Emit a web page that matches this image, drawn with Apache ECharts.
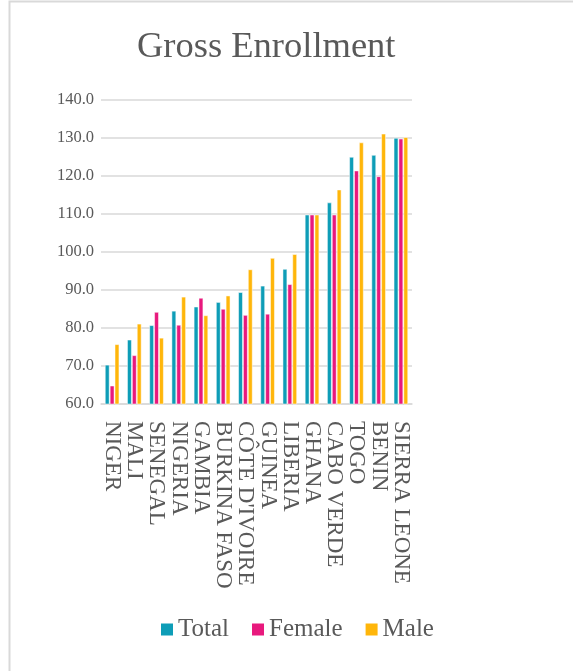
<!DOCTYPE html>
<html>
<head>
<meta charset="utf-8">
<script src="https://cdn.jsdelivr.net/npm/echarts@6/dist/echarts.min.js"></script>
<style>
html,body{margin:0;padding:0;background:#fff;}
#chart{width:573px;height:671px;}
</style>
</head>
<body>
<div id="chart"></div>
<script>
const categories = ["NIGER","MALI","SENEGAL","NIGERIA","GAMBIA","BURKINA FASO","CÔTE D'IVOIRE","GUINEA","LIBERIA","GHANA","CABO VERDE","TOGO","BENIN","SIERRA LEONE"];
const totalValues  = [70.3, 76.9, 80.7, 84.5, 85.6, 86.8, 89.4, 91.1, 95.5, 109.8, 113.0, 125.0, 125.5, 130.0];
const femaleValues = [64.8, 72.8, 84.2, 80.8, 87.9, 85.0, 83.4, 83.7, 91.5, 109.8, 109.8, 121.4, 119.9, 129.8];
const maleValues   = [75.7, 81.1, 77.4, 88.2, 83.3, 88.5, 95.4, 98.4, 99.4, 109.8, 116.4, 128.8, 131.1, 130.2];
const yTicks = { min: 60, max: 140, interval: 10 };

const font = "'Liberation Serif', 'DejaVu Serif', serif";
const textColor = '#595959';
const chart = echarts.init(document.getElementById('chart'), null, { renderer: 'canvas' });
const barStyle = { borderColor: '#fff', borderWidth: 0.5 };
chart.setOption({
  animation: false,
  backgroundColor: '#fff',
  graphic: [{
    type: 'rect', silent: true, z: -1,
    shape: { x: 9.5, y: 1.5, width: 700, height: 800 },
    style: { fill: 'none', stroke: '#d9d9d9', lineWidth: 2 }
  }],
  title: {
    text: 'Gross Enrollment', left: 137, top: 29,
    textStyle: { fontFamily: font, fontWeight: 'normal', fontSize: 36.5, color: textColor },
    padding: 0, itemGap: 0
  },
  legend: {
    top: 617, left: 159,
    itemWidth: 14, itemHeight: 14, itemGap: 21,
    icon: 'rect', padding: 0,
    textStyle: { fontFamily: font, fontSize: 25, color: textColor, padding: [0,0,0,-1] },
    data: ['Total','Female','Male']
  },
  grid: { left: 101, right: 161, top: 100, bottom: 267, containLabel: false },
  xAxis: {
    type: 'category', data: categories,
    axisLine: { show: true, lineStyle: { color: '#d9d9d9', width: 1.5 } },
    axisTick: { show: false },
    axisLabel: { rotate: -90, interval: 0, fontFamily: font, fontSize: 23, color: textColor, margin: 17, lineHeight: 23 }
  },
  yAxis: {
    type: 'value', min: yTicks.min, max: yTicks.max, interval: yTicks.interval,
    axisLine: { show: false }, axisTick: { show: false },
    splitLine: { lineStyle: { color: '#d9d9d9', width: 1.5 } },
    axisLabel: { formatter: v => v.toFixed(1), fontFamily: font, fontSize: 16.5, color: textColor, margin: 7 }
  },
  series: [
    { name: 'Total', type: 'bar', data: totalValues, barGap: '10%', barCategoryGap: '36%', itemStyle: Object.assign({ color: '#0E9DB7' }, barStyle) },
    { name: 'Female', type: 'bar', data: femaleValues, itemStyle: Object.assign({ color: '#E8197D' }, barStyle) },
    { name: 'Male', type: 'bar', data: maleValues, itemStyle: Object.assign({ color: '#FFB60A' }, barStyle) }
  ]
});
</script>
</body>
</html>
